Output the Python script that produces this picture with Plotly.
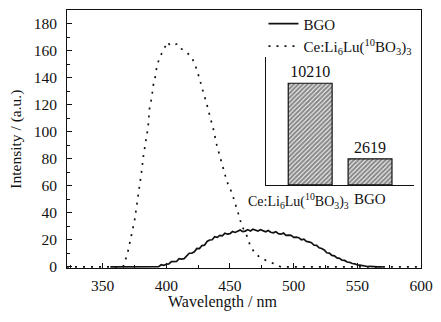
import plotly.graph_objects as go

# ---------------- data ----------------
# BGO emission (solid line): flat zero region then 2-nm sampled spectrum
bgo_zero_wl = [356, 360, 364, 368, 372, 376, 380, 384, 388]
bgo_start = 390
bgo_step = 2
bgo_vals = [0.0, 0.3, 0.2, 1.6, 1.2, 2.0, 2.2, 3.9, 3.8, 4.0,
            6.1, 5.8, 6.1, 8.3, 10.1, 10.1, 11.2, 13.7, 13.6, 15.8,
            16.1, 18.8, 19.9, 20.1, 22.3, 21.9, 23.3, 23.0, 24.9, 24.2,
            24.6, 26.2, 25.5, 26.4, 27.3, 26.1, 26.5, 27.6, 26.6, 27.9,
            27.0, 26.5, 27.6, 26.9, 26.0, 26.9, 25.6, 25.2, 26.1, 24.6,
            24.2, 25.0, 23.3, 23.5, 23.4, 21.8, 22.0, 21.6, 20.1, 20.5,
            18.9, 18.5, 17.9, 16.0, 15.9, 14.1, 13.6, 12.5, 10.5, 10.2,
            8.5, 8.2, 6.7, 6.3, 5.0, 4.8, 3.6, 3.4, 2.5, 2.3,
            1.4, 1.3, 0.8, 0.7, 0.3, 0.4, 0.1, 0.0, 0.0, 0.0, 0.0]

# Ce:Li6Lu(10BO3)3 emission (dotted line)
ce_wl = [322, 340, 360, 366, 369.4, 372.5, 375, 377, 379, 380.5, 382, 383.8,
         385.7, 386.7, 388.5, 389.8, 390.8, 392.3, 393.6, 395.7, 398.3,
         400.9, 402.9, 405.5, 408.6, 411.7, 417.1, 420.5, 424.1, 427.2,
         429.3, 431.9, 433.9, 437, 439.7, 441.6, 443.6, 446.2, 447.6,
         451.5, 454.1, 456.7, 459.3, 463.2, 465.8, 469.7, 475, 480.2,
         484.1, 490, 520, 560, 600]
ce_int = [0, 0, 0, 0, 9.5, 22, 34, 47, 58.6, 70, 82, 93,
          103.5, 116.5, 125, 134.6, 137.7, 146.7, 151.6, 156.6, 161.4,
          166.3, 163.9, 163.9, 165, 161.4, 157.7, 154, 145.5, 135.7,
          128.4, 119.9, 112.6, 101.6, 89.8, 83.3, 76.5, 69.2, 63.1,
          54.7, 47.4, 38.9, 30.4, 23.1, 15.9, 9.8, 6.2, 3.8,
          2.5, 0, 0, 0, 0]

# inset bar chart
inset_labels = ["Ce:Li<sub>6</sub>Lu(<sup>10</sup>BO<sub>3</sub>)<sub>3</sub>", "BGO"]
inset_values = [10210, 2619]
inset_pos = [0, 1]

x_ticks = [350, 400, 450, 500, 550, 600]

bgo_wl = bgo_zero_wl + [bgo_start + bgo_step * i for i in range(len(bgo_vals))]
bgo_int = [0.0] * len(bgo_zero_wl) + bgo_vals

FONT = "Liberation Serif"
INK = "#111111"

fig = go.Figure()

fig.add_trace(go.Scatter(
    x=bgo_wl, y=bgo_int, mode="lines", name="BGO",
    line=dict(color=INK, width=1.7), xaxis="x", yaxis="y"))

fig.add_trace(go.Scatter(
    x=ce_wl, y=ce_int, mode="lines",
    name="Ce:Li<sub>6</sub>Lu(<sup>10</sup>BO<sub>3</sub>)<sub>3</sub>",
    line=dict(color=INK, width=1.7, dash="2px,6px"), xaxis="x", yaxis="y"))

fig.add_trace(go.Bar(
    x=inset_pos, y=inset_values, width=0.733,
    text=[str(v) for v in inset_values], textposition="outside",
    textfont=dict(family=FONT, size=16, color=INK),
    cliponaxis=False, showlegend=False,
    marker=dict(color="white",
                line=dict(color=INK, width=1.2),
                pattern=dict(shape="/", fgcolor=INK, bgcolor="white",
                             size=3.2, solidity=0.7)),
    xaxis="x2", yaxis="y2"))

fig.update_layout(
    width=441, height=322,
    margin=dict(l=67, r=20, t=7, b=54),
    paper_bgcolor="white", plot_bgcolor="white",
    font=dict(family=FONT, size=15, color=INK),
    showlegend=True,
    legend=dict(x=0.555, y=1.01, xanchor="left", yanchor="top",
                bgcolor="rgba(0,0,0,0)", font=dict(size=15, family=FONT),
                tracegroupgap=0),
    xaxis=dict(range=[322, 600], tickvals=x_ticks,
               ticks="inside", ticklen=5, tickcolor=INK,
               minor=dict(dtick=25, tick0=0, ticks="inside", ticklen=3, tickcolor=INK),
               showline=True, linecolor=INK, linewidth=1, mirror=True,
               showgrid=False, zeroline=False, ticklabelstandoff=3,
               tickfont=dict(size=15.5)),
    yaxis=dict(range=[-0.8, 190], tick0=0, dtick=20,
               ticks="inside", ticklen=5, tickcolor=INK,
               minor=dict(dtick=10, tick0=0, ticks="inside", ticklen=3, tickcolor=INK),
               showline=True, linecolor=INK, linewidth=1, mirror=True,
               showgrid=False, zeroline=False, ticklabelstandoff=6,
               tickfont=dict(size=15.5)),
    xaxis2=dict(domain=[0.563, 0.980], anchor="y2", range=[-0.733, 1.733],
                showticklabels=False, ticks="", showgrid=False, zeroline=False,
                showline=True, linecolor=INK, linewidth=1),
    yaxis2=dict(domain=[0.322, 0.816], anchor="x2", range=[0, 12800],
                showticklabels=False, ticks="", showgrid=False, zeroline=False,
                showline=True, linecolor=INK, linewidth=1),
    annotations=[
        dict(text="Wavelength / nm", xref="paper", yref="paper",
             x=0.44, y=-0.13, xanchor="center", yanchor="middle",
             showarrow=False, font=dict(size=16)),
        dict(text="Intensity / (a.u.)", xref="paper", yref="paper",
             x=-0.145, y=0.5, xanchor="center", yanchor="middle",
             textangle=-90, showarrow=False, font=dict(size=15.5)),
        dict(text=inset_labels[0], xref="x2", yref="y2",
             x=inset_pos[0], y=0, xanchor="center", yanchor="top",
             xshift=-12, yshift=-4, showarrow=False, font=dict(size=14)),
        dict(text=inset_labels[1], xref="x2", yref="y2",
             x=inset_pos[1], y=0, xanchor="center", yanchor="top",
             yshift=-4, showarrow=False, font=dict(size=15)),
    ],
)

fig.write_html("out.html")
